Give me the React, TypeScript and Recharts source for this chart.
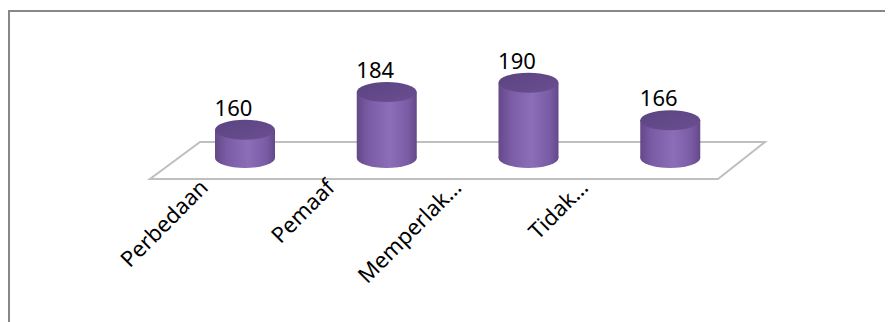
import React from "react";
import { BarChart, Bar, XAxis, YAxis, LabelList, ReferenceArea } from "recharts";

const categories = ["Perbedaan", "Pemaaf", "Memperlak…", "Tidak…"];
const values = [160, 184, 190, 166];
const yDomain: [number, number] = [142, 200];

const data = categories.map((name, i) => ({ name, value: values[i] }));

const Cylinder = (props: any) => {
  const { x, y, width, height } = props;
  if (width == null || height == null) return null;
  const rx = width / 2;
  const ry = 10;
  const cx = x + rx;
  const b = y + height;
  return (
    <g>
      <defs>
        <linearGradient id="cylBody" x1="0" y1="0" x2="1" y2="0">
          <stop offset="0%" stopColor="#644887" />
          <stop offset="20%" stopColor="#7a5ca6" />
          <stop offset="55%" stopColor="#8b6db8" />
          <stop offset="85%" stopColor="#7a5ca6" />
          <stop offset="100%" stopColor="#654889" />
        </linearGradient>
        <linearGradient id="cylTop" x1="0" y1="0" x2="1" y2="1">
          <stop offset="0%" stopColor="#5b4380" />
          <stop offset="100%" stopColor="#6a4f92" />
        </linearGradient>
      </defs>
      <ellipse cx={cx} cy={b} rx={rx} ry={ry} fill="url(#cylBody)" />
      <rect x={x} y={y} width={width} height={height} fill="url(#cylBody)" />
      <ellipse cx={cx} cy={y} rx={rx} ry={ry} fill="url(#cylTop)" />
    </g>
  );
};

const Floor = (props: any) => {
  const { x, y, width, height } = props;
  const bottom = y + height;
  const front = bottom + 21;
  const back = bottom - 16;
  const pts = [
    [x - 24, front],
    [x + width - 23, front],
    [x + width + 24, back],
    [x + 26, back],
  ]
    .map((p) => p.join(","))
    .join(" ");
  return <polygon points={pts} fill="#ffffff" stroke="#bfbfbf" strokeWidth={2} />;
};

const ValueLabel = (props: any) => {
  const { x, y, width, value } = props;
  return (
    <text
      x={x + width / 2 - 11.5}
      y={y - 14}
      textAnchor="middle"
      fontFamily="'Noto Sans', sans-serif"
      fontSize={22}
      fill="#000"
    >
      {value}
    </text>
  );
};

const Tick = (props: any) => {
  const { x, y, payload } = props;
  const center = 166 + (733 - 166) / 2;
  const ax = center + (x - center) * 0.894 - 58;
  const ay = y + 31;
  return (
    <g transform={`translate(${ax},${ay}) rotate(-45)`}>
      <text
        x={0}
        y={0}
        textAnchor="end"
        fontFamily="'Noto Sans', sans-serif"
        fontSize={22}
        fill="#000"
      >
        {payload.value}
      </text>
    </g>
  );
};

export default function App() {
  return (
    <div style={{ position: "relative", width: 885, height: 314 }}>
      <style>{"html,body{overflow:hidden}"}</style>
      <div
        style={{
          position: "absolute",
          left: 0,
          top: 2,
          width: 885,
          height: 320,
          borderTop: "2px solid #878787",
          borderLeft: "2px solid #878787",
          boxSizing: "border-box",
        }}
      />
      <div style={{ position: "absolute", left: 0, top: 0 }}>
        <BarChart
          width={885}
          height={314}
          data={data}
          margin={{ top: 59, right: 152, bottom: 0, left: 166 }}
          barSize={60}
        >
          <YAxis hide domain={yDomain} />
          <XAxis
            dataKey="name"
            height={164}
            axisLine={false}
            tickLine={false}
            tickSize={0}
            tickMargin={0}
            interval={0}
            tick={<Tick />}
          />
          <ReferenceArea y1={yDomain[0]} y2={yDomain[1]} shape={<Floor />} ifOverflow="visible" />
          <Bar dataKey="value" shape={<Cylinder />} isAnimationActive={false}>
            <LabelList dataKey="value" content={<ValueLabel />} />
          </Bar>
        </BarChart>
      </div>
    </div>
  );
}
